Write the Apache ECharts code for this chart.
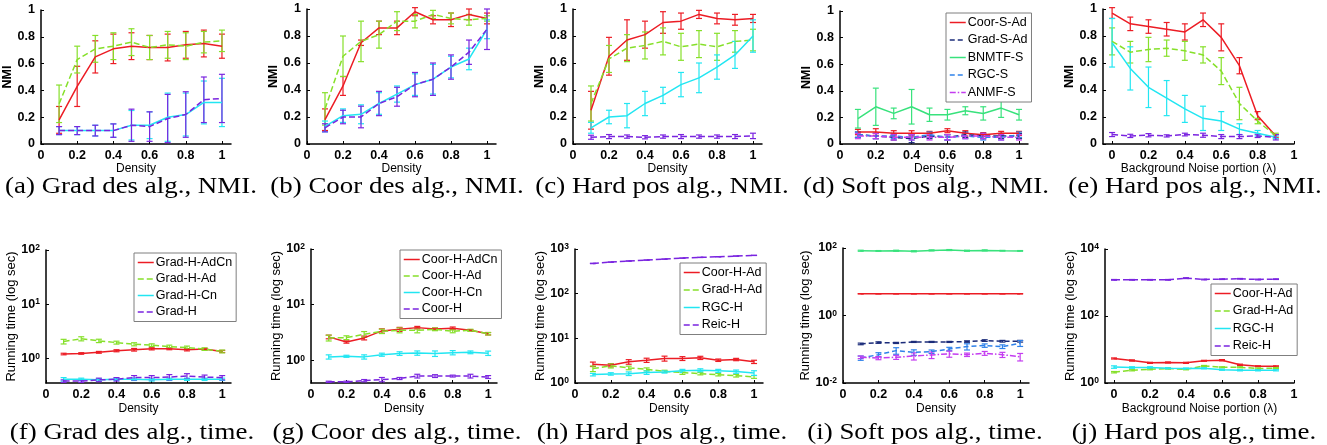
<!DOCTYPE html>
<html>
<head>
<meta charset="utf-8">
<script src="https://cdn.jsdelivr.net/npm/echarts@6/dist/echarts.min.js"></script>
<style>
html, body { margin: 0; padding: 0; background: #fff; }
#main { width: 1327px; height: 445px; }
</style>
</head>
<body>
<div id="main"></div>
<script>
// x positions
const density = [0.1, 0.2, 0.3, 0.4, 0.5, 0.6, 0.7, 0.8, 0.9, 1.0]
const noise = [0, 0.1, 0.2, 0.3, 0.4, 0.5, 0.6, 0.7, 0.8, 0.9]
const xTicks = [0, 0.2, 0.4, 0.6, 0.8, 1]

// (a) Grad des alg., NMI
const aGradAdCn = [0.18, 0.43, 0.65, 0.71, 0.73, 0.72, 0.72, 0.74, 0.75, 0.73]
const aGradAdCnErr = [0.10, 0.15, 0.12, 0.11, 0.10, 0.09, 0.10, 0.10, 0.10, 0.09]
const aGradAd = [0.30, 0.63, 0.71, 0.73, 0.76, 0.72, 0.74, 0.73, 0.76, 0.77]
const aGradAdErr = [0.14, 0.10, 0.10, 0.10, 0.10, 0.09, 0.10, 0.10, 0.08, 0.08]
const aGradCn = [0.10, 0.10, 0.10, 0.10, 0.14, 0.14, 0.20, 0.22, 0.31, 0.31]
const aGradCnErr = [0.03, 0.03, 0.04, 0.05, 0.11, 0.10, 0.18, 0.16, 0.16, 0.18]
const aGrad = [0.10, 0.10, 0.10, 0.10, 0.14, 0.13, 0.19, 0.22, 0.33, 0.34]
const aGradErr = [0.03, 0.03, 0.04, 0.05, 0.12, 0.11, 0.18, 0.17, 0.17, 0.18]

// (b) Coor des alg., NMI
const bCoorAdCn = [0.18, 0.43, 0.75, 0.86, 0.86, 0.98, 0.92, 0.92, 0.96, 0.93]
const bCoorAdCnErr = [0.08, 0.07, 0.02, 0.05, 0.05, 0.03, 0.03, 0.05, 0.04, 0.04]
const bCoorAd = [0.26, 0.65, 0.76, 0.81, 0.91, 0.91, 0.96, 0.93, 0.92, 0.93]
const bCoorAdErr = [0.12, 0.15, 0.15, 0.10, 0.07, 0.05, 0.03, 0.04, 0.04, 0.02]
const bCoorCn = [0.13, 0.21, 0.22, 0.30, 0.37, 0.44, 0.48, 0.57, 0.63, 0.85]
const bCoorCnErr = [0.04, 0.05, 0.07, 0.08, 0.06, 0.08, 0.11, 0.08, 0.08, 0.07]
const bCoor = [0.12, 0.20, 0.20, 0.30, 0.35, 0.44, 0.48, 0.57, 0.68, 0.85]
const bCoorErr = [0.03, 0.05, 0.08, 0.09, 0.07, 0.09, 0.12, 0.09, 0.09, 0.15]

// (c) Hard pos alg., NMI
const cCoorAd = [0.25, 0.65, 0.77, 0.81, 0.90, 0.91, 0.96, 0.93, 0.92, 0.93]
const cCoorAdErr = [0.14, 0.14, 0.15, 0.10, 0.08, 0.06, 0.03, 0.04, 0.04, 0.03]
const cGradAd = [0.30, 0.63, 0.71, 0.73, 0.76, 0.72, 0.74, 0.72, 0.76, 0.77]
const cGradAdErr = [0.13, 0.10, 0.10, 0.10, 0.10, 0.10, 0.10, 0.10, 0.08, 0.08]
const cRgc = [0.12, 0.20, 0.21, 0.30, 0.36, 0.44, 0.49, 0.57, 0.66, 0.80]
const cRgcErr = [0.04, 0.05, 0.09, 0.09, 0.06, 0.09, 0.11, 0.09, 0.10, 0.12]
const cReic = [0.05, 0.055, 0.055, 0.05, 0.055, 0.055, 0.055, 0.055, 0.055, 0.06]
const cReicErr = [0.015, 0.015, 0.012, 0.012, 0.012, 0.015, 0.012, 0.012, 0.015, 0.02]

// (d) Soft pos alg., NMI
const dCoorSAd = [0.09, 0.09, 0.08, 0.08, 0.08, 0.10, 0.08, 0.07, 0.08, 0.08]
const dCoorSAdErr = [0.02, 0.025, 0.02, 0.02, 0.015, 0.015, 0.02, 0.015, 0.015, 0.015]
const dGradSAd = [0.07, 0.06, 0.05, 0.04, 0.06, 0.05, 0.07, 0.06, 0.06, 0.06]
const dGradSAdErr = [0.02, 0.02, 0.02, 0.03, 0.02, 0.02, 0.02, 0.02, 0.02, 0.02]
const dBnmtf = [0.19, 0.28, 0.23, 0.28, 0.22, 0.22, 0.25, 0.23, 0.27, 0.22]
const dBnmtfErr = [0.07, 0.14, 0.04, 0.13, 0.05, 0.04, 0.03, 0.05, 0.07, 0.04]
const dRgcS = [0.07, 0.06, 0.06, 0.05, 0.07, 0.05, 0.06, 0.05, 0.05, 0.07]
const dRgcSErr = [0.02, 0.02, 0.02, 0.02, 0.02, 0.02, 0.02, 0.02, 0.02, 0.02]
const dAnmf = [0.06, 0.06, 0.05, 0.05, 0.05, 0.05, 0.06, 0.06, 0.05, 0.05]
const dAnmfErr = [0.02, 0.02, 0.02, 0.02, 0.02, 0.02, 0.02, 0.02, 0.02, 0.02]

// (e) Hard pos alg., NMI vs noise
const eCoorAd = [0.97, 0.89, 0.87, 0.85, 0.83, 0.92, 0.79, 0.58, 0.21, 0.06]
const eCoorAdErr = [0.04, 0.05, 0.05, 0.05, 0.06, 0.05, 0.10, 0.06, 0.03, 0.01]
const eGradAd = [0.76, 0.68, 0.70, 0.71, 0.69, 0.66, 0.54, 0.30, 0.17, 0.06]
const eGradAdErr = [0.10, 0.08, 0.09, 0.06, 0.07, 0.06, 0.10, 0.12, 0.02, 0.02]
const eRgc = [0.75, 0.56, 0.42, 0.34, 0.26, 0.19, 0.17, 0.11, 0.08, 0.05]
const eRgcErr = [0.18, 0.16, 0.15, 0.13, 0.10, 0.09, 0.07, 0.04, 0.02, 0.01]
const eReic = [0.07, 0.06, 0.065, 0.06, 0.07, 0.065, 0.055, 0.055, 0.06, 0.05]
const eReicErr = [0.015, 0.012, 0.012, 0.008, 0.01, 0.015, 0.015, 0.015, 0.012, 0.02]

// (f) Grad des alg., time
const fGradAdCn = [1.20, 1.23, 1.29, 1.38, 1.44, 1.50, 1.50, 1.44, 1.48, 1.34]
const fGradAdCnErr = [0.04, 0.04, 0.05, 0.06, 0.08, 0.07, 0.06, 0.07, 0.05, 0.06]
const fGradAd = [2.04, 2.30, 2.10, 1.95, 1.82, 1.75, 1.65, 1.58, 1.48, 1.34]
const fGradAdErr = [0.20, 0.20, 0.15, 0.12, 0.12, 0.10, 0.10, 0.10, 0.08, 0.08]
const fGradCn = [0.41, 0.41, 0.40, 0.41, 0.41, 0.40, 0.41, 0.41, 0.41, 0.41]
const fGradCnErr = [0.03, 0.02, 0.02, 0.02, 0.02, 0.02, 0.02, 0.02, 0.02, 0.02]
const fGrad = [0.38, 0.38, 0.40, 0.41, 0.44, 0.44, 0.45, 0.47, 0.45, 0.44]
const fGradErr = [0.02, 0.02, 0.03, 0.03, 0.04, 0.04, 0.05, 0.05, 0.04, 0.04]

// (g) Coor des alg., time
const gCoorAdCn = [2.63, 2.13, 2.52, 3.37, 3.60, 3.86, 3.65, 3.76, 3.46, 3.00]
const gCoorAdCnErr = [0.20, 0.10, 0.20, 0.30, 0.30, 0.20, 0.15, 0.20, 0.10, 0.15]
const gCoorAd = [2.52, 2.55, 2.93, 3.32, 3.46, 3.46, 3.60, 3.32, 3.46, 3.00]
const gCoorAdErr = [0.30, 0.20, 0.35, 0.30, 0.35, 0.35, 0.20, 0.20, 0.15, 0.15]
const gCoorCn = [1.15, 1.18, 1.15, 1.26, 1.32, 1.35, 1.32, 1.37, 1.39, 1.34]
const gCoorCnErr = [0.10, 0.05, 0.10, 0.08, 0.10, 0.12, 0.15, 0.12, 0.08, 0.12]
const gCoor = [0.41, 0.41, 0.43, 0.45, 0.47, 0.52, 0.52, 0.52, 0.52, 0.50]
const gCoorErr = [0.01, 0.01, 0.02, 0.04, 0.02, 0.04, 0.03, 0.02, 0.04, 0.03]

// (h) Hard pos alg., time
const hCoorAd = [2.64, 2.50, 2.98, 3.24, 3.54, 3.54, 3.66, 3.24, 3.36, 2.98]
const hCoorAdErr = [0.30, 0.20, 0.35, 0.35, 0.45, 0.35, 0.30, 0.20, 0.20, 0.25]
const hGradAd = [2.10, 2.42, 2.18, 2.03, 1.83, 1.71, 1.62, 1.54, 1.46, 1.37]
const hGradAdErr = [0.30, 0.25, 0.20, 0.15, 0.10, 0.15, 0.10, 0.10, 0.10, 0.10]
const hRgc = [1.54, 1.60, 1.62, 1.71, 1.77, 1.87, 1.93, 1.87, 1.80, 1.68]
const hRgcErr = [0.10, 0.10, 0.15, 0.15, 0.10, 0.15, 0.15, 0.15, 0.15, 0.20]
const hReic = [475, 509, 538, 565, 594, 625, 649, 671, 695, 720]
const hReicErr = [5, 5, 5, 5, 5, 5, 5, 5, 5, 5]

// (i) Soft pos alg., time
const iCoorSAd = [4.4, 4.4, 4.4, 4.4, 4.4, 4.4, 4.4, 4.4, 4.4, 4.4]
const iCoorSAdErr = [0.05, 0.05, 0.05, 0.05, 0.05, 0.05, 0.05, 0.05, 0.05, 0.05]
const iGradSAd = [0.144, 0.158, 0.154, 0.165, 0.165, 0.165, 0.169, 0.181, 0.173, 0.173]
const iGradSAdErr = [0.008, 0.008, 0.006, 0.006, 0.006, 0.006, 0.008, 0.01, 0.01, 0.01]
const iBnmtf = [83, 82, 83, 80, 85, 87, 83, 85, 83, 82]
const iBnmtfErr = [3, 2, 3, 3, 3, 3, 3, 3, 2, 2]
const iRgcS = [0.055, 0.069, 0.091, 0.081, 0.085, 0.102, 0.120, 0.129, 0.120, 0.151]
const iRgcSErr = [0.008, 0.01, 0.02, 0.015, 0.01, 0.012, 0.025, 0.015, 0.015, 0.03]
const iAnmf = [0.058, 0.055, 0.058, 0.063, 0.068, 0.073, 0.069, 0.076, 0.069, 0.060]
const iAnmfErr = [0.005, 0.006, 0.008, 0.015, 0.015, 0.015, 0.008, 0.01, 0.012, 0.015]

// (j) Hard pos alg., time vs noise
const jCoorAd = [5.4, 4.7, 4.0, 4.1, 4.0, 4.6, 4.8, 3.5, 3.16, 3.16]
const jCoorAdErr = [0.2, 0.2, 0.15, 0.15, 0.15, 0.15, 0.2, 0.15, 0.1, 0.1]
const jGradAd = [2.1, 2.4, 2.57, 2.7, 2.57, 3.24, 2.95, 2.95, 2.7, 2.8]
const jGradAdErr = [0.1, 0.1, 0.1, 0.1, 0.1, 0.1, 0.1, 0.1, 0.1, 0.1]
const jRgc = [3.0, 2.9, 2.9, 2.75, 2.7, 2.75, 2.5, 2.4, 2.4, 2.4]
const jRgcErr = [0.25, 0.15, 0.15, 0.1, 0.1, 0.1, 0.1, 0.1, 0.1, 0.1]
const jReic = [1200, 1200, 1200, 1200, 1350, 1230, 1260, 1290, 1230, 1260]
const jReicErr = [30, 30, 30, 30, 40, 30, 30, 30, 30, 30]

const sans = '"Liberation Sans", Arial, sans-serif'
const serif = '"Liberation Serif", serif'

const styles = {
  red: { color: '#ec1c24', type: 'solid' },
  lime: { color: '#86e02a', type: [6, 3] },
  cyan: { color: '#22e6f2', type: 'solid' },
  violet: { color: '#7a24e0', type: [6, 3] },
  navy: { color: '#1b2c7a', type: [5, 3] },
  spring: { color: '#38e27c', type: 'solid' },
  blue: { color: '#2f82ea', type: [5, 3] },
  magenta: { color: '#c43cf0', type: [6, 2, 1.5, 2] },
}

const panels = [
  { grid: [41, 10, 190, 134], xs: density, xr: [0, 1.05], xName: 'Density', caption: ['(a) Grad des alg., NMI.', 131, 187],
    lines: [['Grad-H-AdCn', aGradAdCn, aGradAdCnErr, 'red'], ['Grad-H-Ad', aGradAd, aGradAdErr, 'lime'],
      ['Grad-H-Cn', aGradCn, aGradCnErr, 'cyan'], ['Grad-H', aGrad, aGradErr, 'violet']] },
  { grid: [307, 9, 189, 135], xs: density, xr: [0, 1.05], xName: 'Density', caption: ['(b) Coor des alg., NMI.', 397, 187],
    lines: [['Coor-H-AdCn', bCoorAdCn, bCoorAdCnErr, 'red'], ['Coor-H-Ad', bCoorAd, bCoorAdErr, 'lime'],
      ['Coor-H-Cn', bCoorCn, bCoorCnErr, 'cyan'], ['Coor-H', bCoor, bCoorErr, 'violet']] },
  { grid: [573, 9, 189, 135], xs: density, xr: [0, 1.05], xName: 'Density', caption: ['(c) Hard pos alg., NMI.', 662, 187],
    lines: [['Coor-H-Ad', cCoorAd, cCoorAdErr, 'red'], ['Grad-H-Ad', cGradAd, cGradAdErr, 'lime'],
      ['RGC-H', cRgc, cRgcErr, 'cyan'], ['Reic-H', cReic, cReicErr, 'violet']] },
  { grid: [840, 11, 188, 133], xs: density, xr: [0, 1.05], xName: 'Density', caption: ['(d) Soft pos alg., NMI.', 926, 187],
    lines: [['Coor-S-Ad', dCoorSAd, dCoorSAdErr, 'red'], ['Grad-S-Ad', dGradSAd, dGradSAdErr, 'navy'],
      ['BNMTF-S', dBnmtf, dBnmtfErr, 'spring'], ['RGC-S', dRgcS, dRgcSErr, 'blue'], ['ANMF-S', dAnmf, dAnmfErr, 'magenta']] },
  { grid: [1103, 9, 191, 135], xs: noise, xr: [-0.05, 1], xName: 'Background Noise portion (λ)', caption: ['(e) Hard pos alg., NMI.', 1195, 187],
    lines: [['Coor-H-Ad', eCoorAd, eCoorAdErr, 'red'], ['Grad-H-Ad', eGradAd, eGradAdErr, 'lime'],
      ['RGC-H', eRgc, eRgcErr, 'cyan'], ['Reic-H', eReic, eReicErr, 'violet']] },
  { grid: [46, 250, 185, 133], xs: density, xr: [0, 1.05], xName: 'Density', yr: [0.35, 100], yTicks: [1, 10, 100], caption: ['(f) Grad des alg., time.', 132, 433],
    lines: [['Grad-H-AdCn', fGradAdCn, fGradAdCnErr, 'red'], ['Grad-H-Ad', fGradAd, fGradAdErr, 'lime'],
      ['Grad-H-Cn', fGradCn, fGradCnErr, 'cyan'], ['Grad-H', fGrad, fGradErr, 'violet']] },
  { grid: [311, 249, 186, 134], xs: density, xr: [0, 1.05], xName: 'Density', yr: [0.39, 100], yTicks: [1, 10, 100], caption: ['(g) Coor des alg., time.', 397, 433],
    lines: [['Coor-H-AdCn', gCoorAdCn, gCoorAdCnErr, 'red'], ['Coor-H-Ad', gCoorAd, gCoorAdErr, 'lime'],
      ['Coor-H-Cn', gCoorCn, gCoorCnErr, 'cyan'], ['Coor-H', gCoor, gCoorErr, 'violet']] },
  { grid: [575, 249, 188, 134], xs: density, xr: [0, 1.05], xName: 'Density', yr: [1, 1000], yTicks: [1, 10, 100, 1000], caption: ['(h) Hard pos alg., time.', 662, 433],
    lines: [['Coor-H-Ad', hCoorAd, hCoorAdErr, 'red'], ['Grad-H-Ad', hGradAd, hGradAdErr, 'lime'],
      ['RGC-H', hRgc, hRgcErr, 'cyan'], ['Reic-H', hReic, hReicErr, 'violet']] },
  { grid: [843, 248, 186, 135], xs: density, xr: [0, 1.05], xName: 'Density', yr: [0.01, 100], yTicks: [0.01, 1, 100], caption: ['(i) Soft pos alg., time.', 925, 433],
    lines: [['Coor-S-Ad', iCoorSAd, iCoorSAdErr, 'red'], ['Grad-S-Ad', iGradSAd, iGradSAdErr, 'navy'],
      ['BNMTF-S', iBnmtf, iBnmtfErr, 'spring'], ['RGC-S', iRgcS, iRgcSErr, 'blue'], ['ANMF-S', iAnmf, iAnmfErr, 'magenta']] },
  { grid: [1105, 249, 189, 134], xs: noise, xr: [-0.05, 1], xName: 'Background Noise portion (λ)', yr: [1, 10000], yTicks: [1, 100, 10000], caption: ['(j) Hard pos alg., time.', 1194, 433],
    lines: [['Coor-H-Ad', jCoorAd, jCoorAdErr, 'red'], ['Grad-H-Ad', jGradAd, jGradAdErr, 'lime'],
      ['RGC-H', jRgc, jRgcErr, 'cyan'], ['Reic-H', jReic, jReicErr, 'violet']] },
]

// 'Coor-H-Ad' is red solid in the hard-pos panels but lime dashed in (g), so pin its legend sample there
const coorHardItem = { name: 'Coor-H-Ad', lineStyle: { color: styles.red.color, type: 'solid' } }

const legendBoxes = [
  { left: 946, top: 13, gap: 4.5, data: ['Coor-S-Ad', 'Grad-S-Ad', 'BNMTF-S', 'RGC-S', 'ANMF-S'] },
  { left: 134, top: 253, gap: 3.5, data: ['Grad-H-AdCn', 'Grad-H-Ad', 'Grad-H-Cn', 'Grad-H'] },
  { left: 400, top: 250, gap: 3.5, data: ['Coor-H-AdCn', 'Coor-H-Ad', 'Coor-H-Cn', 'Coor-H'] },
  { left: 680, top: 263, gap: 4.5, data: [coorHardItem, 'Grad-H-Ad', 'RGC-H', 'Reic-H'] },
  { left: 1211, top: 284, gap: 4.5, data: [coorHardItem, 'Grad-H-Ad', 'RGC-H', 'Reic-H'] },
]

function errorBar(color) {
  return function (params, api) {
    const x = api.value(0)
    const lo = api.coord([x, api.value(1)])
    const hi = api.coord([x, api.value(2)])
    const cap = 3
    const style = { stroke: color, lineWidth: 1.2, fill: null }
    return {
      type: 'group',
      children: [
        { type: 'line', shape: { x1: lo[0], y1: lo[1], x2: hi[0], y2: hi[1] }, style },
        { type: 'line', shape: { x1: lo[0] - cap, y1: lo[1], x2: lo[0] + cap, y2: lo[1] }, style },
        { type: 'line', shape: { x1: hi[0] - cap, y1: hi[1], x2: hi[0] + cap, y2: hi[1] }, style },
      ],
    }
  }
}

const axisLine = { show: true, onZero: false, lineStyle: { color: '#000', width: 1.5 } }
const axisTick = { show: true, inside: true, length: 3, lineStyle: { color: '#000', width: 1 } }
const tickFont = { fontFamily: sans, fontSize: 12.5, fontWeight: 'bold', color: '#000' }

const grid = []
const xAxis = []
const yAxis = []
const series = []

panels.forEach((p, k) => {
  const log = !!p.yr
  grid.push({ left: p.grid[0], top: p.grid[1], width: p.grid[2], height: p.grid[3], outerBoundsMode: 'none', containLabel: false })
  xAxis.push({
    type: 'value', gridIndex: k, min: p.xr[0], max: p.xr[1],
    axisLine, splitLine: { show: false },
    axisTick: { ...axisTick, customValues: xTicks },
    axisLabel: { ...tickFont, margin: 5, customValues: xTicks },
    name: p.xName, nameLocation: 'middle', nameGap: log ? 20 : 17,
    nameTextStyle: { fontFamily: sans, fontSize: 12, color: '#000' },
  })
  if (log) {
    yAxis.push({
      type: 'log', logBase: 10, gridIndex: k, min: p.yr[0], max: p.yr[1],
      axisLine, splitLine: { show: false }, minorTick: { show: false },
      axisTick: { ...axisTick, customValues: p.yTicks },
      axisLabel: {
        ...tickFont, margin: 6, customValues: p.yTicks,
        formatter: (v) => '10{sup|' + Math.round(Math.log10(v)) + '}',
        rich: { sup: { fontFamily: sans, fontSize: 8.5, fontWeight: 'bold', verticalAlign: 'top', color: '#000' } },
      },
      name: 'Running time (log sec)', nameLocation: 'middle', nameGap: 25, nameRotate: 90,
      nameTextStyle: { fontFamily: sans, fontSize: 13, color: '#000' },
    })
  } else {
    yAxis.push({
      type: 'value', gridIndex: k, min: 0, max: 1, interval: 0.2,
      axisLine, axisTick, splitLine: { show: false },
      axisLabel: { ...tickFont, margin: 6 },
      name: 'NMI', nameLocation: 'middle', nameGap: 19, nameRotate: 90,
      nameTextStyle: { fontFamily: sans, fontSize: 12.5, fontWeight: 'bold', color: '#000' },
    })
  }
  p.lines.forEach(([name, ys, err, sk]) => {
    const st = styles[sk]
    series.push({
      type: 'custom', name: name + ' err', xAxisIndex: k, yAxisIndex: k, silent: true, z: 2,
      data: p.xs.map((x, i) => [x, ys[i] - err[i], ys[i] + err[i]]),
      encode: { x: 0, y: [1, 2] },
      renderItem: errorBar(st.color),
    })
    series.push({
      type: 'line', name, xAxisIndex: k, yAxisIndex: k, silent: true, z: 3,
      data: p.xs.map((x, i) => [x, ys[i]]),
      symbol: 'none', smooth: false,
      lineStyle: { color: st.color, width: 1.5, type: st.type },
      itemStyle: { color: st.color },
    })
  })
})

// legend: line sample only, no marker
const legend = legendBoxes.map((b) => ({
  orient: 'vertical', left: b.left, top: b.top, data: b.data,
  itemWidth: 16, itemHeight: 12, itemGap: b.gap, padding: [3, 4, 3, 3],
  borderColor: '#7f7f7f', borderWidth: 1, backgroundColor: '#fff', borderRadius: 0,
  selectedMode: false,
  itemStyle: { opacity: 0, borderWidth: 0 },
  lineStyle: { width: 1.5 },
  textStyle: { fontFamily: sans, fontSize: 12.5, color: '#000', padding: [0, 0, 0, -3] },
}))

const graphic = panels.map((p) => ({
  type: 'text', x: p.caption[1], y: p.caption[2], scaleX: 1.17,
  style: { text: p.caption[0], fontFamily: serif, fontSize: 23, fill: '#000', align: 'center', verticalAlign: 'middle' },
}))

const chart = echarts.init(document.getElementById('main'), null, { renderer: 'canvas' })
chart.setOption({
  animation: false,
  backgroundColor: '#fff',
  grid, xAxis, yAxis, series, legend, graphic,
})
</script>
</body>
</html>
